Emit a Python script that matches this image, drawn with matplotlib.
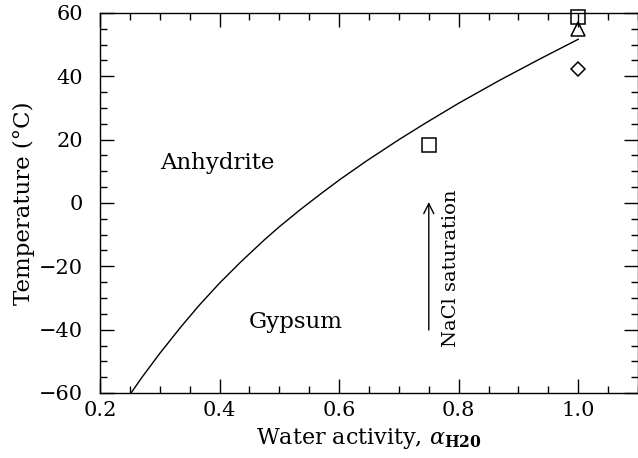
import matplotlib.pyplot as plt
from matplotlib.ticker import MultipleLocator

# Gypsum / anhydrite boundary vs water activity
a_curve = [0.252, 0.27, 0.30, 0.335, 0.365, 0.40, 0.435, 0.474, 0.50, 0.535,
           0.57, 0.602, 0.646, 0.70, 0.746, 0.80, 0.868, 0.935, 1.0]
T_curve = [-60, -55.1, -47.5, -39.2, -32.5, -25.3, -18.7, -11.8, -7.5, -2.1,
           3.0, 7.5, 13.3, 20.0, 25.4, 31.5, 38.7, 45.4, 51.7]

# experimental points
sq_a = [0.75, 1.0]
sq_T = [18.3, 58.8]
tri_a = [1.0]
tri_T = [54.9]
dia_a = [1.0]
dia_T = [42.2]

plt.rcParams['font.family'] = ['DejaVu Serif']
plt.rcParams['mathtext.fontset'] = 'dejavuserif'

fig = plt.figure(figsize=(6.38, 4.58), dpi=100)
ax = fig.add_axes([100 / 638, 1 - 393 / 458, 538 / 638, 380 / 458])

ax.plot(a_curve, T_curve, color='black', lw=1.0)
ax.plot(sq_a, sq_T, 's', ms=9.5, mfc='none', mec='black', mew=1.1, clip_on=False)
ax.plot(tri_a, tri_T, '^', ms=10, mfc='none', mec='black', mew=1.1, clip_on=False)
ax.plot(dia_a, dia_T, 'D', ms=7.5, mfc='none', mec='black', mew=1.1, clip_on=False)

ax.text(0.397, 12.6, 'Anhydrite', fontsize=16.5, ha='center', va='center')
ax.text(0.528, -37.6, 'Gypsum', fontsize=16.5, ha='center', va='center')
ax.annotate('', xy=(0.75, 0.3), xytext=(0.75, -40.1),
            arrowprops=dict(arrowstyle='->', color='black', lw=1.0,
                            mutation_scale=18, shrinkA=0, shrinkB=0))
ax.text(0.787, -20.5, 'NaCl saturation', fontsize=14, rotation=90,
        ha='center', va='center')

ax.set_xlim(0.2, 1.1)
ax.set_ylim(-60, 60)
ax.xaxis.set_major_locator(MultipleLocator(0.2))
ax.xaxis.set_minor_locator(MultipleLocator(0.05))
ax.yaxis.set_major_locator(MultipleLocator(20))
ax.yaxis.set_minor_locator(MultipleLocator(5))
ax.set_xticks([0.2, 0.4, 0.6, 0.8, 1.0])
ax.set_xticklabels(['0.2', '0.4', '0.6', '0.8', '1.0'])
ax.tick_params(which='both', direction='in', top=True, right=True,
               labelsize=15, width=1.0)
ax.tick_params(axis='x', pad=6)
ax.tick_params(axis='y', pad=12)
ax.tick_params(which='major', length=10)
ax.tick_params(which='minor', length=5)
for s in ax.spines.values():
    s.set_linewidth(1.0)

ax.set_xlabel('Water activity, $\\alpha_{\\mathbf{H20}}$', fontsize=16)
ax.set_ylabel('Temperature (°C)', fontsize=16.5, labelpad=3)

fig.savefig('out.png', dpi=100)
